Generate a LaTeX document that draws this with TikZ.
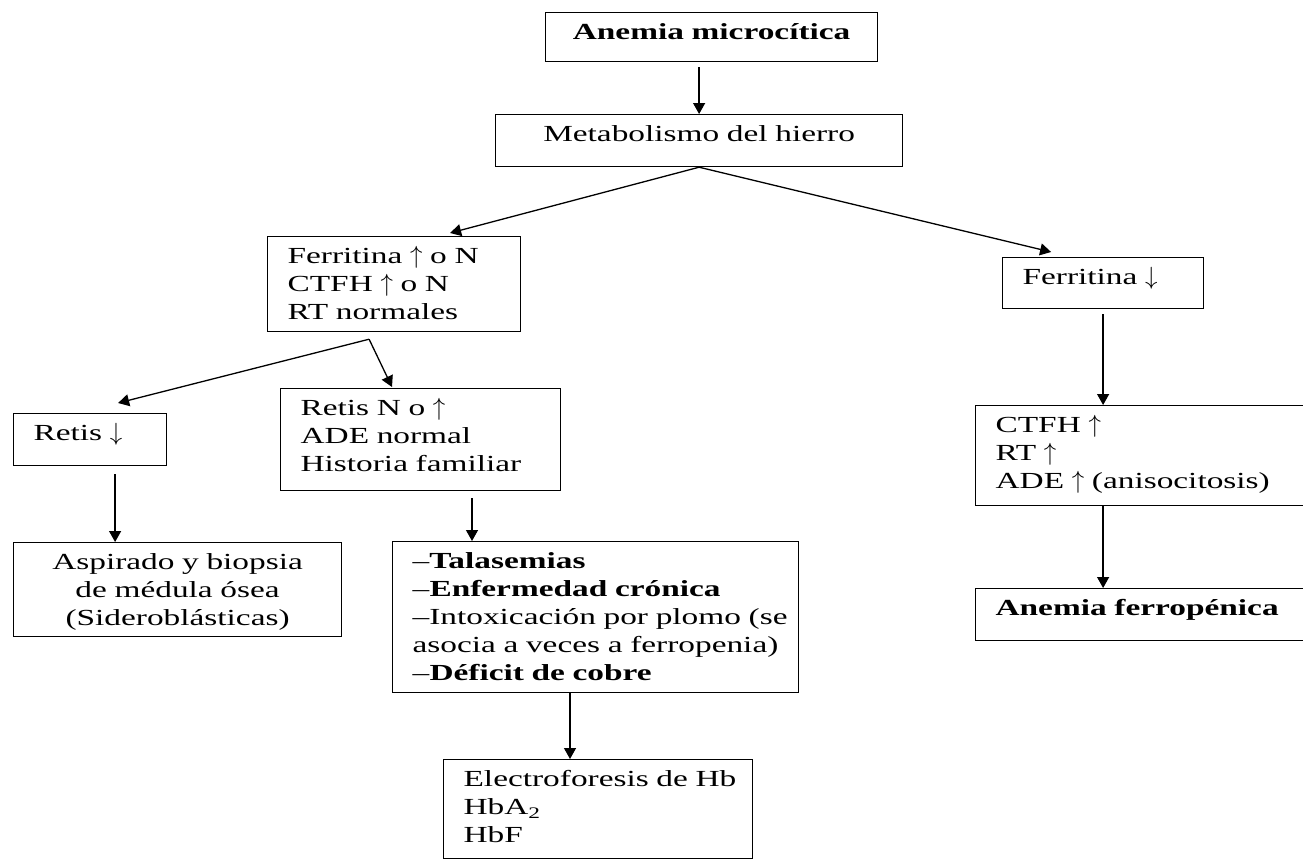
\documentclass[tikz,border=0pt]{standalone}
\usepackage{fontspec}
\setmainfont{Liberation Serif}[FakeStretch=1.45]
\usetikzlibrary{arrows.meta,calc}
\newcommand{\UpA}{$\uparrow$}
\newcommand{\DnA}{$\downarrow$}
\tikzset{
  box/.style={draw, line width=1.2pt, rectangle, anchor=north west, inner xsep=20pt, inner ysep=0pt,
    font=\fontsize{23}{28}\selectfont, align=left, text height=27pt},
  cbox/.style={box, align=center},
  arr/.style={line width=1.3pt, -{Triangle[length=11pt,width=12pt]}}
}
\begin{document}
\begin{tikzpicture}[x=1pt,y=-1pt]
\useasboundingbox (0,0) rectangle (1303,860);
% boxes: position = top-left corner; width = text width + 40
\node[cbox, text width=292pt, text depth=22pt] (micro) at (545,12) {\textbf{Anemia microcítica}};
\node[cbox, text width=367pt, text depth=25pt] (metab) at (495,114) {Metabolismo del hierro};
\node[box, text width=213pt, text depth=68pt] (ferUp) at (267,236) {Ferritina \UpA{} o N\\CTFH \UpA{} o N\\RT normales};
\node[box, text width=161pt, text depth=24pt] (ferDn) at (1002,257) {Ferritina \DnA};
\node[box, text width=113pt, text depth=25pt] (retDn) at (13,413) {Retis \DnA};
\node[box, text width=240pt, text depth=75pt] (retN) at (280,388) {Retis N o \UpA\\ADE normal\\\mbox{Historia familiar}};
\node[cbox, text width=288pt, text depth=67pt] (aspir) at (13,542) {Aspirado y biopsia\\de médula ósea\\(Sideroblásticas)};
\node[box, text width=366pt, text depth=124pt] (talas) at (392,541) {–\textbf{Talasemias}\\\mbox{–\textbf{Enfermedad crónica}}\\\mbox{–Intoxicación por plomo (se}\\\mbox{asocia a veces a ferropenia)}\\\mbox{–\textbf{Déficit de cobre}}};
\node[box, text width=269pt, text depth=72pt] (electro) at (443,759) {\mbox{Electroforesis de Hb}\\HbA\textsubscript{2}\\HbF};
\node[box, text width=305pt, text depth=73pt] (ctfh) at (975,405) {CTFH \UpA\\RT \UpA\\\mbox{ADE \UpA{} (anisocitosis)}};
\node[box, text width=305pt, text depth=25pt] (anfer) at (975,588) {\textbf{Anemia ferropénica}};
% connectors
\coordinate (s1) at ($(micro.south -| metab.north)+(0,5)$);
\draw[arr] (s1) -- (metab.north);
\coordinate (t2) at ($(ferUp.north)+(56,-3)$);
\draw[arr] (metab.south) -- (t2);
\coordinate (t3) at ($(ferDn.north)+(-52,-5)$);
\draw[arr] (metab.south) -- (t3);
\coordinate (b1) at ($(ferUp.south)+(-25,7)$);
\coordinate (t4) at ($(retDn.north)+(28,-10)$);
\coordinate (t5) at ($(retN.north west)+(112,-1)$);
\draw[arr] (b1) -- (t4);
\draw[arr] (b1) -- (t5);
\coordinate (s6) at ($(retDn.south)+(25,8)$);
\draw[arr] (s6) -- (s6 |- aspir.north);
\coordinate (s7) at ($(retN.south west)+(192,7)$);
\draw[arr] (s7) -- (s7 |- talas.north);
\coordinate (s8) at ($(talas.south west)+(178,0)$);
\draw[arr] (s8) -- (s8 |- electro.north);
\coordinate (s9) at ($(ferDn.south)+(0,5)$);
\draw[arr] (s9) -- (s9 |- ctfh.north);
\coordinate (s10) at (ferDn.south |- ctfh.south);
\draw[arr] (s10) -- (s10 |- anfer.north);
\end{tikzpicture}
\end{document}
